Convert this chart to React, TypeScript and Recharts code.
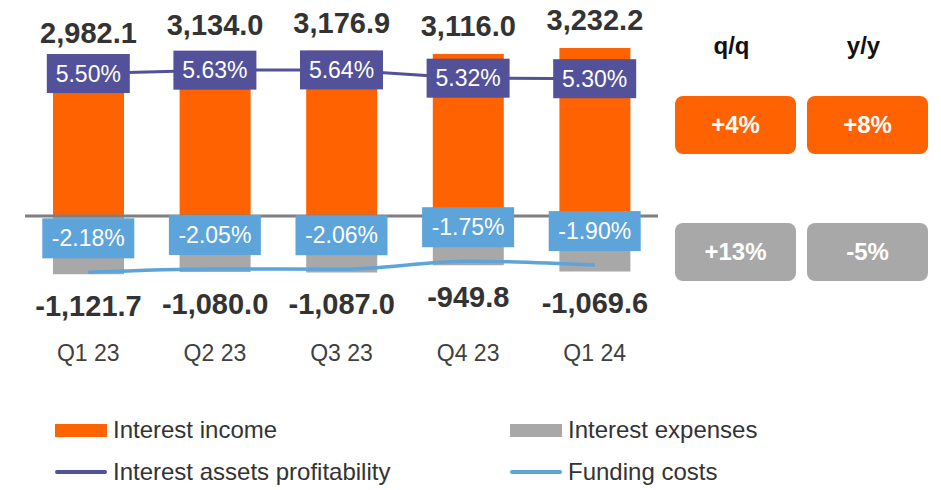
import { Bar, ComposedChart, LabelList, Line, ReferenceLine, XAxis, YAxis } from "recharts"

const FONT = "'Liberation Sans', Arial, sans-serif"

const quarters = ['Q1 23', 'Q2 23', 'Q3 23', 'Q4 23', 'Q1 24']
const interestIncome = [2982.1, 3134.0, 3176.9, 3116.0, 3232.2]
const interestExpenses = [-1121.7, -1080.0, -1087.0, -949.8, -1069.6]
const assetsProfitability = [5.50, 5.63, 5.64, 5.32, 5.30]
const fundingCosts = [-2.18, -2.05, -2.06, -1.75, -1.90]

const changeHeaders = ['q/q', 'y/y']
const incomeChanges = ['+4%', '+8%']
const expenseChanges = ['+13%', '-5%']

const seriesNames = ['Interest income', 'Interest expenses', 'Interest assets profitability', 'Funding costs']

const ORANGE = '#FF6200'
const GREY = '#A8A8A8'
const PURPLE = '#525199'
const BLUE = '#5DA4DB'

const data = quarters.map((q, i) => ({
    quarter: q,
    income: interestIncome[i],
    expenses: interestExpenses[i],
    profitability: assetsProfitability[i],
    funding: fundingCosts[i],
}))

const fmt = (v: number) => v.toLocaleString('en-US', { minimumFractionDigits: 1, maximumFractionDigits: 1 })

const IncomeLabel = (props: any) => {
    const { x, y, width, height, value } = props
    const top = Math.min(y, y + height)
    return (
        <text x={x + width / 2} y={top - 18} textAnchor="middle" fontSize={29} fontWeight="bold" fill="#333" fontFamily={FONT}>
            {fmt(value)}
        </text>
    )
}

const ExpenseLabel = (props: any) => {
    const { x, y, width, height, value } = props
    const bottom = Math.max(y, y + height)
    return (
        <text x={x + width / 2} y={bottom + 42} textAnchor="middle" fontSize={29} fontWeight="bold" fill="#333" fontFamily={FONT}>
            {fmt(value)}
        </text>
    )
}

const boxLabel = (color: string, w: number, h: number, shift: number) => (props: any) => {
    const { x, y, value } = props
    const cy = y + shift
    return (
        <g>
            <rect x={x - w / 2} y={cy - h / 2} width={w} height={h} fill={color} />
            <text x={x} y={cy + 8} textAnchor="middle" fontSize={23} fill="#fff" fontFamily={FONT}>
                {value.toFixed(2) + '%'}
            </text>
        </g>
    )
}

const changeBox = (left: number, top: number, bg: string, text: string) => (
    <div key={left + '-' + top} style={{
        position: 'absolute', left, top, width: 121, height: 58, background: bg, borderRadius: 8,
        color: '#fff', fontWeight: 'bold', fontSize: 24, display: 'flex', alignItems: 'center', justifyContent: 'center',
    }}>{text}</div>
)

const legendItem = (left: number, top: number, color: string, name: string, isLine: boolean) => (
    <div key={name} style={{ position: 'absolute', left, top, height: 30, display: 'flex', alignItems: 'center' }}>
        <div style={{
            width: 52, height: isLine ? 4 : 13, background: color, borderRadius: isLine ? 2 : 0, marginRight: 6,
        }} />
        <span style={{ fontSize: 24, color: '#333' }}>{name}</span>
    </div>
)

const App = () => {
    return (
        <div style={{ position: 'absolute', left: 0, top: 0, width: 941, height: 490, background: '#fff', fontFamily: FONT }}>
            <ComposedChart
                width={941}
                height={490}
                data={data}
                stackOffset="sign"
                margin={{ top: 21, right: 283, bottom: 123, left: 25 }}
            >
                <XAxis
                    dataKey="quarter"
                    axisLine={false}
                    tickLine={false}
                    tickSize={0}
                    tickMargin={8}
                    height={30}
                    tick={{ fontSize: 23, fill: '#404040', fontFamily: FONT }}
                />
                <YAxis yAxisId="left" hide domain={[-2330, 3750]} />
                <YAxis yAxisId="right" hide orientation="right" domain={[-4.678, 7.529]} />
                <Bar yAxisId="left" dataKey="income" stackId="a" fill={ORANGE} barSize={71} isAnimationActive={false}>
                    <LabelList dataKey="income" content={IncomeLabel} />
                </Bar>
                <Bar yAxisId="left" dataKey="expenses" stackId="a" fill={GREY} barSize={71} isAnimationActive={false}>
                    <LabelList dataKey="expenses" content={ExpenseLabel} />
                </Bar>
                <ReferenceLine yAxisId="left" y={0} stroke="#7F7F7F" strokeWidth={3} />
                <Line yAxisId="right" type="linear" dataKey="profitability" stroke={PURPLE} strokeWidth={3} dot={false} isAnimationActive={false}>
                    <LabelList dataKey="profitability" content={boxLabel(PURPLE, 83, 39, 0)} />
                </Line>
                <Line yAxisId="right" type="monotone" dataKey="funding" stroke={BLUE} strokeWidth={3.5} dot={false} isAnimationActive={false}>
                    <LabelList dataKey="funding" content={boxLabel(BLUE, 92, 40, -34)} />
                </Line>
            </ComposedChart>

            {changeHeaders.map((h, i) => (
                <div key={h} style={{
                    position: 'absolute', left: 675 + i * 132 - 4, top: 32, width: 121, textAlign: 'center',
                    fontSize: 24, fontWeight: 'bold', color: '#111',
                }}>{h}</div>
            ))}
            {incomeChanges.map((t, i) => changeBox(675 + i * 132, 96, ORANGE, t))}
            {expenseChanges.map((t, i) => changeBox(675 + i * 132, 223, GREY, t))}

            {legendItem(55, 415, ORANGE, seriesNames[0], false)}
            {legendItem(510, 415, GREY, seriesNames[1], false)}
            {legendItem(55, 457, PURPLE, seriesNames[2], true)}
            {legendItem(510, 457, BLUE, seriesNames[3], true)}
        </div>
    )
}

export default App
